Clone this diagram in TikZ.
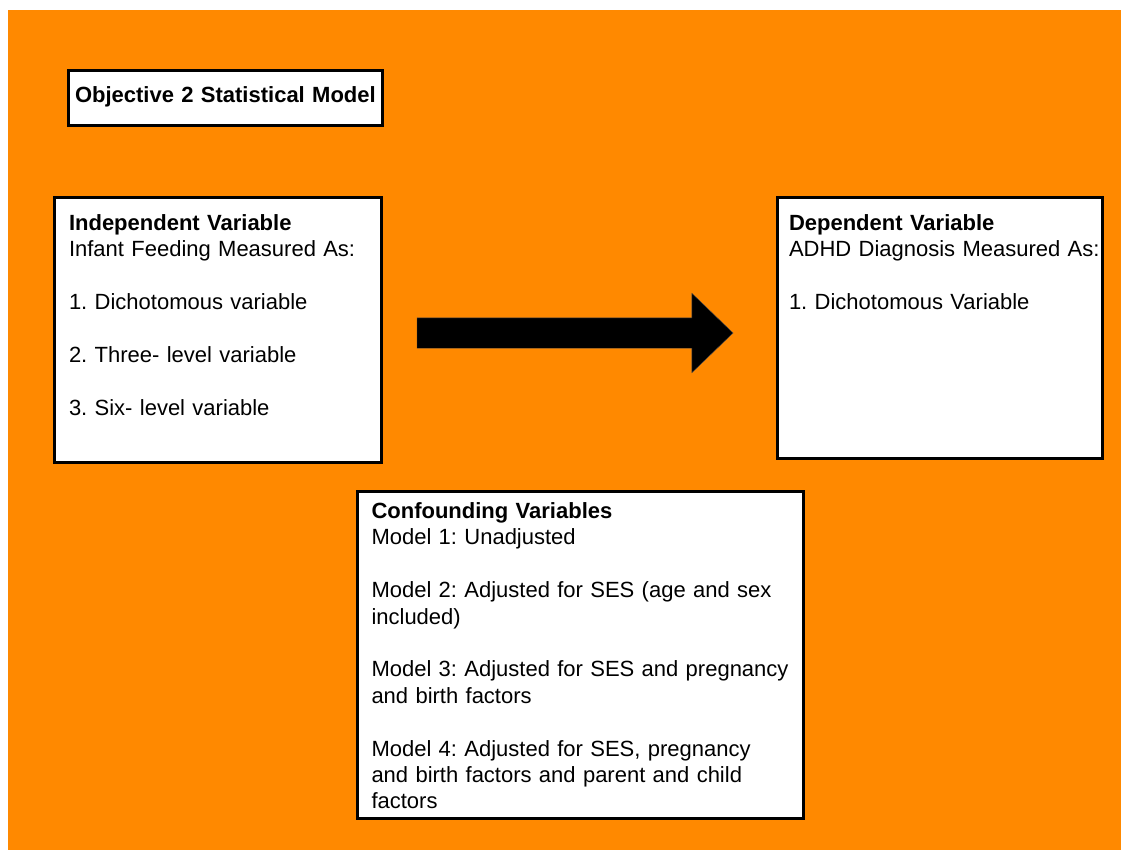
\documentclass[tikz,border=0pt]{standalone}
\usepackage{fontspec}
\setmainfont{Liberation Sans}
\usetikzlibrary{shapes.arrows}
\definecolor{bgorange}{RGB}{255,137,0}
\frenchspacing

\begin{document}
\begin{tikzpicture}[%
        x=1pt, y=-1pt,
        varbox/.style={
            % the shape:
            rectangle,
            % the rest:
            draw=black,
            line width=3pt,
            fill=white,
            anchor=north west,
            align=left,
            inner ysep=0pt,
            outer sep=0pt,
            font=\fontsize{22}{26.4}\selectfont,
        },
        bigarrow/.style={
            % the shape:
            single arrow,
            single arrow head extend=24.5pt,
            single arrow tip angle=88,
            % the rest:
            fill=black,
            draw=black!70,
            thin,
            inner sep=15pt,
            outer sep=0pt,
        },
    ]

    % background
    \fill[white] (0,0) rectangle (1121,850);
    \fill[bgorange] (8,10) rectangle (1121,850);
    \useasboundingbox (0,0) rectangle (1121,850);

    \node[varbox, text width=301pt, inner xsep=6.5pt, text height=32.2pt, text depth=22.8pt]
        (title) at (68.5,70.5) {\textbf{Objective 2 Statistical Model}};

    \node[varbox, text width=298pt, inner xsep=14.5pt, text height=33pt, text depth=232pt]
        (indep) at (54.5,197.5) {%
        \textbf{Independent Variable}\\
        Infant Feeding Measured As:\\[26.4pt]
        1. Dichotomous variable\\[26.4pt]
        2. Three- level variable\\[26.4pt]
        3. Six- level variable};

    \node[varbox, text width=301pt, inner xsep=12pt, text height=33pt, text depth=228pt]
        (dep) at (777,197.5) {%
        \textbf{Dependent Variable}\\
        \mbox{ADHD Diagnosis Measured As:}\\[26.4pt]
        1. Dichotomous Variable};

    \node[varbox, text width=418pt, inner xsep=14pt, text height=27pt, text depth=300pt]
        (conf) at (357.5,491.5) {%
        \textbf{Confounding Variables}\\
        Model 1: Unadjusted\\[26.4pt]
        \mbox{Model 2: Adjusted for SES (age and sex}\\
        included)\\[26.4pt]
        \mbox{Model 3: Adjusted for SES and pregnancy}\\
        and birth factors\\[26.4pt]
        \mbox{Model 4: Adjusted for SES, pregnancy}\\
        \mbox{and birth factors and parent and child}\\
        factors};

    % the big arrow between the two variables
    \node[bigarrow, anchor=tail, minimum height=316pt, minimum width=79pt] (effect) at (417,333) {};

\end{tikzpicture}
\end{document}
